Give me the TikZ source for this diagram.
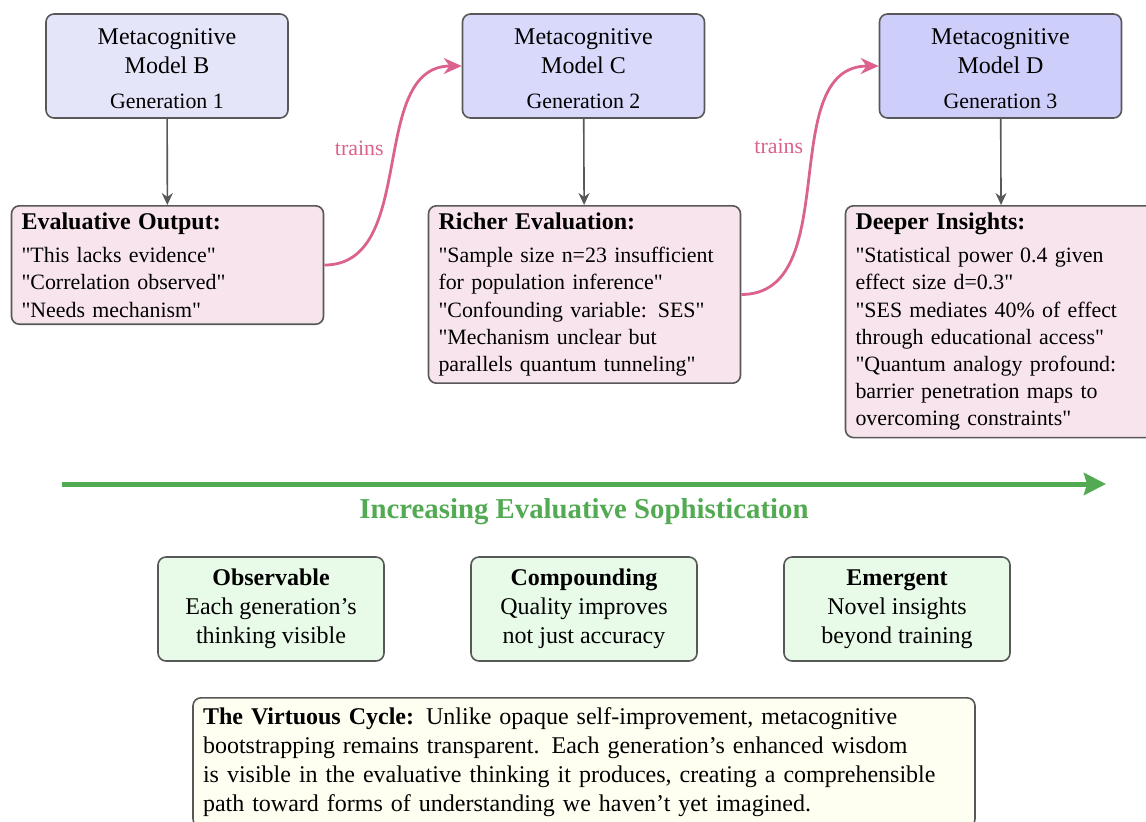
\documentclass[tikz,border=0pt,12pt]{standalone}
\usepackage{fontspec}
\setmainfont{Liberation Serif}
\usepackage{xcolor}
\usetikzlibrary{arrows.meta,positioning}

\definecolor{genB}{RGB}{229,229,250}
\definecolor{genC}{RGB}{217,217,251}
\definecolor{genD}{RGB}{206,206,250}
\definecolor{evalfill}{RGB}{248,228,236}
\definecolor{trainpink}{RGB}{219,98,142}
\definecolor{trendgreen}{RGB}{82,170,82}
\definecolor{propfill}{RGB}{232,250,232}
\definecolor{cyclefill}{RGB}{254,254,241}
\definecolor{edgegray}{RGB}{88,88,88}
\newcommand{\qt}{\textquotedbl}

\begin{document}
\begin{tikzpicture}[x=0.5pt,y=-0.5pt,>=Stealth,
  model/.style={draw=edgegray,thick,rounded corners=4pt,minimum width=121pt,
    minimum height=52pt,align=center,inner sep=3pt},
  evalbox/.style={draw=edgegray,thick,rounded corners=4pt,fill=evalfill,
    text width=146pt,inner xsep=5pt,inner ysep=3.5pt,align=left,anchor=north,
    font=\small},
  propbox/.style={draw=edgegray,thick,rounded corners=4pt,fill=propfill,
    minimum width=113pt,minimum height=52pt,align=center,inner sep=3pt},
  flow/.style={-{Stealth[length=6pt,width=5.5pt]},edgegray,thick},
  trains/.style={-{Stealth[length=9pt,width=8pt]},trainpink,line width=1.4pt},
  trainlabel/.style={text=trainpink,font=\small}]
  \path[use as bounding box] (0,0) rectangle (1146,821);
  \node[model,fill=genB] (modelB) at (167,66)
    {\rule{0pt}{11pt}Metacognitive\\Model B\\[3pt]{\small Generation 1}};
  \node[model,fill=genC] (modelC) at (583.5,66)
    {\rule{0pt}{11pt}Metacognitive\\Model C\\[3pt]{\small Generation 2}};
  \node[model,fill=genD] (modelD) at (1000.5,66)
    {\rule{0pt}{11pt}Metacognitive\\Model D\\[3pt]{\small Generation 3}};
  \node[evalbox] (outB) at (167.5,205)
    {{\normalsize\bfseries Evaluative Output:}\\[3pt]
     \qt This lacks evidence\qt\\
     \qt Correlation observed\qt\\
     \qt Needs mechanism\qt};
  \node[evalbox] (outC) at (584.5,205)
    {{\normalsize\bfseries Richer Evaluation:}\\[3pt]
     \qt Sample size n=23 insufficient\\
     for population inference\qt\\
     \qt Confounding variable: SES\qt\\
     \qt Mechanism unclear but\\
     parallels quantum tunneling\qt};
  \node[evalbox] (outD) at (1001.5,205)
    {{\normalsize\bfseries Deeper Insights:}\\[3pt]
     \qt Statistical power 0.4 given\\
     effect size d=0.3\qt\\
     \qt SES mediates 40\% of effect\\
     through educational access\qt\\
     \qt Quantum analogy profound:\\
     barrier penetration maps to\\
     overcoming constraints\qt};
  \draw[flow] (modelB) -- (outB);
  \draw[flow] (modelC) -- (outC);
  \draw[flow] (modelD) -- (outD);
  \draw[trains] (outB.east) to[out=0,in=180]
    node[midway,above left,trainlabel] {trains} (modelC.west);
  \draw[trains] (outC.east) to[out=0,in=180]
    node[pos=0.55,above left,trainlabel] {trains} (modelD.west);
  \coordinate (trendstart) at (62,484);
  \coordinate (trendend) at (1106,484);
  \draw[-{Stealth[length=11pt,width=11pt,inset=1.5pt]},trendgreen,line width=2.5pt]
    (trendstart) -- (trendend)
    node[midway,below=2pt,font=\large\bfseries] {Increasing Evaluative Sophistication};
  \node[propbox] (observable) at (271,609)
    {\textbf{Observable}\\Each generation's\\thinking visible};
  \node[propbox] (compounding) at (584,609)
    {\textbf{Compounding}\\Quality improves\\not just accuracy};
  \node[propbox] (emergent) at (897,609)
    {\textbf{Emergent}\\Novel insights\\beyond training};
  \node[draw=edgegray,thick,rounded corners=4pt,fill=cyclefill,text width=381pt,
    inner sep=5pt,align=left,anchor=north] (cycle) at (584,697)
    {\textbf{The Virtuous Cycle:} Unlike opaque self-improvement, metacognitive\\
     bootstrapping remains transparent. Each generation's enhanced wisdom\\
     is visible in the evaluative thinking it produces, creating a comprehensible\\
     path toward forms of understanding we haven't yet imagined.};
\end{tikzpicture}
\end{document}
